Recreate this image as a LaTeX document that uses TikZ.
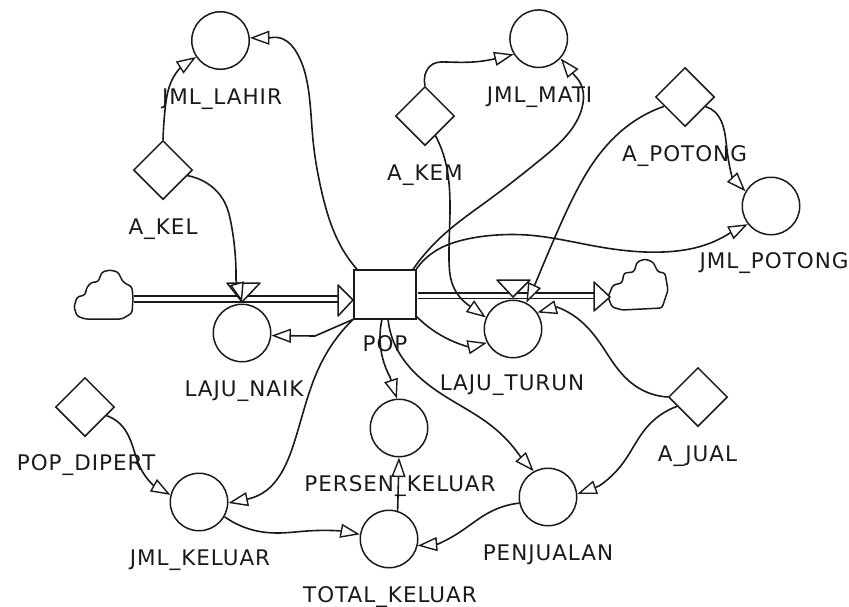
\documentclass[tikz,border=0pt]{standalone}
\usepackage{fontspec}
\setmainfont[LetterSpace=4.5]{DejaVu Sans}
\usetikzlibrary{arrows.meta,shapes.geometric,hobby}
\definecolor{ink}{HTML}{1A1A1A}
\tikzset{
  aux/.style={circle,draw=ink,line width=1.5pt,minimum size=57.5pt,inner sep=0pt},
  conv/.style={diamond,draw=ink,line width=1.5pt,minimum size=59pt,aspect=1,inner sep=0pt},
  stock/.style={rectangle,draw=ink,line width=1.5pt,minimum width=62pt,minimum height=49pt,inner sep=0pt},
  lbl/.style={inner sep=0pt,anchor=base,text=ink,font=\fontsize{21.5}{24}\selectfont},
  tipped/.style={draw=ink,line width=1.6pt,-{Triangle[length=19.5pt,width=14pt,fill=white,line width=1.4pt]}},
  conn/.style={tipped,use Hobby shortcut},
  line/.style={tipped},
  pipe/.style={draw=ink,line width=1.6pt,double=white,double distance=4pt},
  shp/.style={draw=ink,line width=1.5pt,fill=white,line join=round},
  cloudy/.style={shp,rounded corners=2.5pt}
}
\begin{document}
\begin{tikzpicture}[x=1pt,y=-1pt]
\useasboundingbox (0,0) rectangle (849,606);
% flows
\coordinate (CLE) at (134,299);
\coordinate (FLE) at (338,299);
\coordinate (CRS) at (418,295.5);
\coordinate (FRE) at (594,295.5);
\coordinate (VL) at (242,302);
\coordinate (VR) at (513,297);
\draw[pipe] (CLE) -- (FLE);
\draw[pipe] (CRS) -- (FRE);
% clouds
\draw[cloudy] (133,298) -- (132,287) -- (123,282) -- (118,272) -- (110,270) -- (102,272) -- (98,282) -- (92,282) -- (87,287) -- (85,295) -- (77,297) -- (74,307) -- (77,316) -- (85,319) -- (122,319) -- (132,313) -- cycle;
\draw[cloudy] (608,297) -- (613,285) -- (622,283) -- (624,273) -- (634,272) -- (637,262) -- (645,259) -- (653,262) -- (658,272) -- (665,273) -- (668,290) -- (662,308) -- (622,310) -- (612,307) -- cycle;
% flow tips and valves
\draw[shp] (338,285) -- (353,300) -- (338,316) -- cycle;
\draw[shp] (594,282) -- (610,297) -- (594,311) -- cycle;
\draw[shp] (227,283) -- (260,283) -- (VL) -- cycle;
\draw[shp] (497,280) -- (530,280) -- (VR) -- cycle;
% nodes
\node[stock] (POP) at (385,294.5) {};
\node[aux] (LAHIR) at (220.5,40.5) {};
\node[aux] (MATI) at (538.7,38.7) {};
\node[aux] (POTONG) at (771,206) {};
\node[aux] (NAIK) at (242,333) {};
\node[aux] (TURUN) at (513,329) {};
\node[aux] (PERSEN) at (399,428) {};
\node[aux] (KELUAR) at (199,502) {};
\node[aux] (TOTAL) at (389,539) {};
\node[aux] (PENJ) at (548,497) {};
\node[conv] (AKEL) at (163,170) {};
\node[conv] (AKEM) at (425,116) {};
\node[conv] (APOT) at (685,97) {};
\node[conv] (AJUAL) at (698,397) {};
\node[conv] (DIPERT) at (85,407) {};
% labels
\node[lbl] (tLAHIR) at (222,104) {JML\_LAHIR};
\node[lbl] (tMATI) at (539.5,102) {JML\_MATI};
\node[lbl] (tAPOT) at (684.5,161) {A\_POTONG};
\node[lbl] (tPOTONG) at (774,268) {JML\_POTONG};
\node[lbl] (tAKEL) at (163,234) {A\_KEL};
\node[lbl] (tAKEM) at (425,180) {A\_KEM};
\node[lbl] (tPOP) at (385,351) {POP};
\node[lbl] (tNAIK) at (244,396) {LAJU\_NAIK};
\node[lbl] (tTURUN) at (512,390) {LAJU\_TURUN};
\node[lbl] (tAJUAL) at (697.5,461) {A\_JUAL};
\node[lbl] (tDIPERT) at (86,470) {POP\_DIPERT};
\node[lbl] (tPERSEN) at (400,491) {PERSEN\_KELUAR};
\node[lbl] (tKELUAR) at (200,565) {JML\_KELUAR};
\node[lbl] (tTOTAL) at (390,602) {TOTAL\_KELUAR};
\node[lbl] (tPENJ) at (548,560) {PENJUALAN};
% connectors
\draw[conn] (AKEL.90) .. (165,110) .. (172,80) .. (182,66) -- (LAHIR.214);
\draw[conn] (AKEL.-13) .. (205,182) .. (225,203) .. (231,223) .. (236,280) -- (VL);
\draw[conn] (POP.138) .. (343,250) .. (322,193) .. (313,140) .. (308,87) .. (297,53) .. (283,39) .. (270.7,37.7) -- (LAHIR.5);
\draw[conn] (AKEM.90) .. (425,75) .. (433,64) .. (447,62) .. (473,62) .. (494,59) -- (MATI.212);
\draw[conn] (AKEM.-62) .. (445,160) .. (449,183) .. (449,260) .. (452,283) .. (467,304) -- (TURUN.157);
\draw[conn] (POP.42) .. (440,238) .. (490,199) .. (540,160) .. (567,135) .. (582,108) .. (582,87) .. (575,76) -- (MATI.-42);
\draw[conn] (POP.39) .. (437,250) .. (463,240) .. (497,235) .. (527,235) .. (600,247) .. (663,252) .. (705,245) .. (730,233) -- (POTONG.218);
\draw[conn] (APOT.204) .. (633,122) .. (593,163) .. (577,190) .. (555,237) .. (536,282) -- (TURUN.63);
\draw[conn] (APOT.-25) .. (715,112) .. (722,123) .. (727,150) .. (732,177) -- (POTONG.150);
\draw[conn] (POP.-35) .. (450,340) .. (469,347) -- (TURUN.208);
\draw[conn] (AJUAL.180) .. (637,387) .. (617,368) .. (600,343) .. (577,318) .. (557,307) -- (TURUN.34);
\draw[line] (POP.218) -- (315,336) -- (NAIK.-5);
\draw[conn] (POP.218) .. (333,343) .. (317,372) .. (295,440) .. (283,470) .. (267,490) .. (248,499) -- (KELUAR.-2);
\draw[conn] (POP.263) .. (380,338) .. (390,377) -- (PERSEN.94);
\draw[conn] (POP.277) .. (395,345) .. (415,373) .. (440,393) .. (493,427) .. (520,456) -- (PENJ.119);
\draw[conn] (DIPERT.-22) .. (118,422) .. (127,433) .. (140,467) .. (153,485) -- (KELUAR.166);
\draw[conn] (KELUAR.-30) .. (257,531) .. (277,533) .. (307,531) .. (342,531) -- (TOTAL.171);
\draw[line] (TOTAL.73) -- (PERSEN.270);
\draw[conn] (PENJ.192) .. (490,512) .. (460,532) .. (438,544) -- (TOTAL.-13);
\draw[conn] (AJUAL.204) .. (647,427) .. (623,463) .. (599,486) -- (PENJ.6);
\end{tikzpicture}
\end{document}
